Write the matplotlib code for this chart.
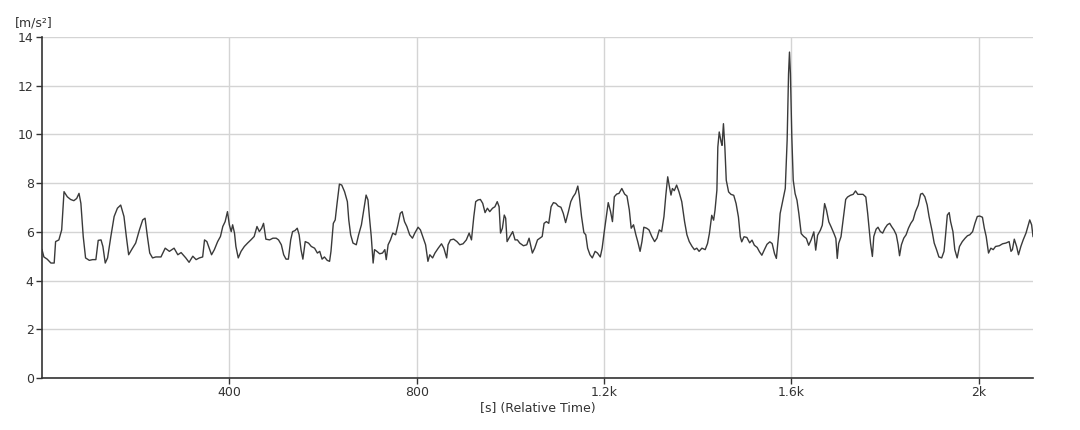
import numpy as np
import matplotlib.pyplot as plt
from matplotlib.ticker import FixedLocator

# DATOS — aceleracion vs tiempo relativo

tiempo_s = [
    0, 4, 11, 19, 26, 29, 36, 42, 47, 54, 61, 68, 74, 79, 83, 88, 93, 101, 108, 115,
    120, 126, 130, 135, 140, 147, 154, 161, 168, 175, 180, 185, 192, 200, 208, 215, 220, 225, 230, 236,
    243, 254, 263, 272, 282, 290, 297, 307, 314, 322, 329, 336, 343, 347, 352, 357, 362, 368, 375, 381,
    386, 391, 396, 400, 404, 407, 411, 414, 419, 425, 432, 439, 446, 453, 459, 464, 469, 473, 478, 486,
    493, 500, 505, 511, 516, 521, 526, 531, 535, 540, 545, 549, 553, 557, 562, 569, 575, 582, 588, 593,
    598, 603, 609, 614, 617, 622, 626, 630, 635, 640, 646, 652, 655, 659, 664, 671, 676, 682, 687, 692,
    696, 699, 703, 707, 710, 715, 721, 727, 732, 735, 739, 744, 749, 755, 760, 765, 769, 774, 779, 785,
    791, 796, 803, 808, 814, 819, 824, 828, 834, 839, 846, 853, 858, 864, 867, 872, 879, 886, 892, 899,
    906, 912, 917, 922, 926, 931, 936, 941, 946, 951, 956, 962, 967, 972, 976, 979, 983, 987, 990, 993,
    999, 1005, 1010, 1015, 1020, 1028, 1035, 1040, 1047, 1052, 1058, 1063, 1068, 1072, 1077, 1082, 1087, 1092, 1097, 1102,
    1108, 1113, 1118, 1124, 1129, 1134, 1139, 1144, 1147, 1152, 1157, 1161, 1165, 1170, 1175, 1181, 1186, 1192, 1196, 1201,
    1205, 1209, 1214, 1218, 1222, 1227, 1232, 1238, 1244, 1249, 1254, 1258, 1263, 1268, 1272, 1277, 1281, 1285, 1291, 1296,
    1302, 1308, 1313, 1318, 1323, 1328, 1332, 1336, 1339, 1343, 1346, 1350, 1355, 1360, 1366, 1372, 1377, 1382, 1388, 1393,
    1398, 1403, 1409, 1416, 1421, 1425, 1430, 1434, 1437, 1441, 1443, 1446, 1450, 1452, 1455, 1458, 1461, 1466, 1471, 1477,
    1482, 1487, 1491, 1494, 1499, 1505, 1511, 1516, 1521, 1527, 1532, 1537, 1542, 1548, 1554, 1559, 1564, 1568, 1573, 1576,
    1582, 1587, 1591, 1594, 1596, 1598, 1601, 1604, 1608, 1612, 1616, 1621, 1626, 1632, 1637, 1642, 1648, 1652, 1656, 1662,
    1666, 1671, 1675, 1680, 1685, 1691, 1695, 1698, 1701, 1706, 1711, 1716, 1720, 1726, 1732, 1737, 1742, 1748, 1753, 1759,
    1763, 1769, 1773, 1776, 1781, 1785, 1790, 1795, 1800, 1805, 1810, 1814, 1819, 1824, 1828, 1831, 1835, 1840, 1845, 1850,
    1855, 1860, 1865, 1871, 1876, 1880, 1885, 1890, 1894, 1900, 1905, 1910, 1915, 1921, 1926, 1929, 1933, 1937, 1940, 1945,
    1949, 1954, 1959, 1965, 1971, 1976, 1981, 1987, 1992, 1997, 2002, 2008, 2012, 2016, 2021, 2026, 2031, 2036, 2044, 2051,
    2058, 2065, 2069, 2072, 2076, 2081, 2085, 2090, 2095, 2101, 2105, 2109, 2113, 2116,
]

aceleracion = [
    5.27, 4.97, 4.88, 4.72, 4.72, 5.60, 5.67, 6.08, 7.65, 7.44, 7.33, 7.28, 7.37, 7.58, 7.17, 5.81, 4.93, 4.83, 4.86, 4.86,
    5.65, 5.67, 5.40, 4.72, 4.93, 5.81, 6.63, 6.97, 7.10, 6.63, 5.81, 5.06, 5.29, 5.54, 6.08, 6.49, 6.56, 5.81, 5.13, 4.93,
    4.97, 4.97, 5.33, 5.20, 5.33, 5.06, 5.15, 4.93, 4.75, 5.00, 4.86, 4.93, 4.97, 5.67, 5.60, 5.33, 5.06, 5.27, 5.60, 5.81,
    6.22, 6.42, 6.83, 6.29, 6.01, 6.29, 5.95, 5.40, 4.93, 5.20, 5.40, 5.54, 5.67, 5.81, 6.22, 6.01, 6.15, 6.35, 5.70, 5.67,
    5.74, 5.74, 5.67, 5.47, 5.06, 4.88, 4.88, 5.67, 6.01, 6.05, 6.15, 5.88, 5.27, 4.88, 5.60, 5.54, 5.40, 5.33, 5.13, 5.20,
    4.88, 4.97, 4.83, 4.79, 5.20, 6.35, 6.49, 7.17, 7.96, 7.92, 7.65, 7.24, 6.49, 5.88, 5.54, 5.47, 5.88, 6.29, 6.90, 7.51,
    7.31, 6.63, 5.81, 4.72, 5.27, 5.20, 5.10, 5.13, 5.27, 4.86, 5.47, 5.67, 5.95, 5.88, 6.29, 6.76, 6.83, 6.42, 6.22, 5.88,
    5.74, 5.95, 6.19, 6.08, 5.74, 5.47, 4.79, 5.06, 4.93, 5.13, 5.33, 5.51, 5.33, 4.93, 5.47, 5.67, 5.70, 5.60, 5.47, 5.51,
    5.67, 5.95, 5.67, 6.63, 7.24, 7.31, 7.33, 7.17, 6.79, 6.97, 6.83, 6.97, 7.03, 7.24, 7.03, 5.95, 6.15, 6.69, 6.56, 5.60,
    5.81, 6.01, 5.67, 5.67, 5.54, 5.43, 5.47, 5.74, 5.13, 5.33, 5.67, 5.74, 5.81, 6.35, 6.42, 6.35, 7.03, 7.20, 7.17, 7.06,
    7.01, 6.76, 6.38, 6.83, 7.24, 7.44, 7.58, 7.88, 7.51, 6.63, 5.97, 5.88, 5.33, 5.06, 4.93, 5.20, 5.13, 4.97, 5.33, 6.08,
    6.63, 7.20, 6.83, 6.42, 7.44, 7.55, 7.58, 7.78, 7.55, 7.47, 6.90, 6.15, 6.29, 5.88, 5.60, 5.20, 5.60, 6.19, 6.15, 6.08,
    5.81, 5.60, 5.74, 6.08, 6.01, 6.63, 7.51, 8.26, 7.92, 7.51, 7.78, 7.69, 7.92, 7.65, 7.24, 6.42, 5.88, 5.60, 5.40, 5.27,
    5.33, 5.20, 5.33, 5.27, 5.52, 5.93, 6.68, 6.48, 6.89, 7.71, 9.48, 10.10, 9.69, 9.55, 10.44, 9.48, 8.12, 7.64, 7.54, 7.50,
    7.16, 6.61, 5.80, 5.59, 5.80, 5.77, 5.55, 5.66, 5.45, 5.36, 5.18, 5.04, 5.25, 5.49, 5.59, 5.52, 5.11, 4.91, 5.93, 6.75,
    7.30, 7.78, 9.76, 12.49, 13.38, 12.49, 9.89, 8.12, 7.57, 7.30, 6.75, 5.93, 5.82, 5.73, 5.45, 5.66, 6.00, 5.25, 5.86, 6.07,
    6.27, 7.16, 6.89, 6.41, 6.20, 5.93, 5.73, 4.91, 5.52, 5.80, 6.55, 7.33, 7.43, 7.50, 7.54, 7.68, 7.54, 7.54, 7.54, 7.43,
    6.75, 5.54, 4.99, 5.81, 6.11, 6.19, 6.01, 5.95, 6.15, 6.29, 6.35, 6.22, 6.08, 5.88, 5.47, 5.02, 5.47, 5.74, 5.88, 6.15,
    6.35, 6.49, 6.83, 7.10, 7.55, 7.58, 7.44, 7.10, 6.63, 6.08, 5.54, 5.27, 4.97, 4.93, 5.20, 5.81, 6.69, 6.79, 6.42, 6.01,
    5.27, 4.93, 5.40, 5.60, 5.74, 5.84, 5.88, 6.01, 6.35, 6.63, 6.65, 6.60, 6.15, 5.81, 5.13, 5.33, 5.27, 5.40, 5.43, 5.51,
    5.54, 5.60, 5.20, 5.27, 5.70, 5.40, 5.06, 5.40, 5.67, 5.95, 6.22, 6.49, 6.29, 5.81,
]

ticks_x = [400, 800, 1200, 1600, 2000]
etiquetas_x = ['400', '800', '1.2k', '1.6k', '2k']
ticks_y = [0, 2, 4, 6, 8, 10, 12, 14]

# GRAFICA

plt.rcParams['font.family'] = ['DejaVu Sans']
gris_texto = '#333333'

fig = plt.figure(figsize=(10.8, 4.3), dpi=100)
ax = fig.add_axes([0.0389, 0.1209, 0.9176, 0.7931])

ax.plot(tiempo_s, aceleracion, color='#3a3a3a', linewidth=1.0)

ax.set_xlim(0, 2116)
ax.set_ylim(0, 14)
ax.xaxis.set_major_locator(FixedLocator(ticks_x))
ax.set_xticklabels(etiquetas_x)
ax.set_yticks(ticks_y)

ax.grid(True, color='#d4d4d4', linewidth=1.0)
ax.set_axisbelow(True)
for lado in ['top', 'right']:
    ax.spines[lado].set_visible(False)
for lado in ['left', 'bottom']:
    ax.spines[lado].set_color('#333333')
    ax.spines[lado].set_linewidth(1.2)

ax.tick_params(axis='both', length=4, width=1, color='#333333',
               labelsize=9, labelcolor=gris_texto, pad=2)

ax.set_xlabel('[s] (Relative Time)', fontsize=9, color=gris_texto, labelpad=2)
# unidad del eje y, arriba a la izquierda
fig.text(0.014, 0.931, '[m/s²]', fontsize=9, color=gris_texto, ha='left', va='bottom')

fig.savefig('out.png', dpi=100)
